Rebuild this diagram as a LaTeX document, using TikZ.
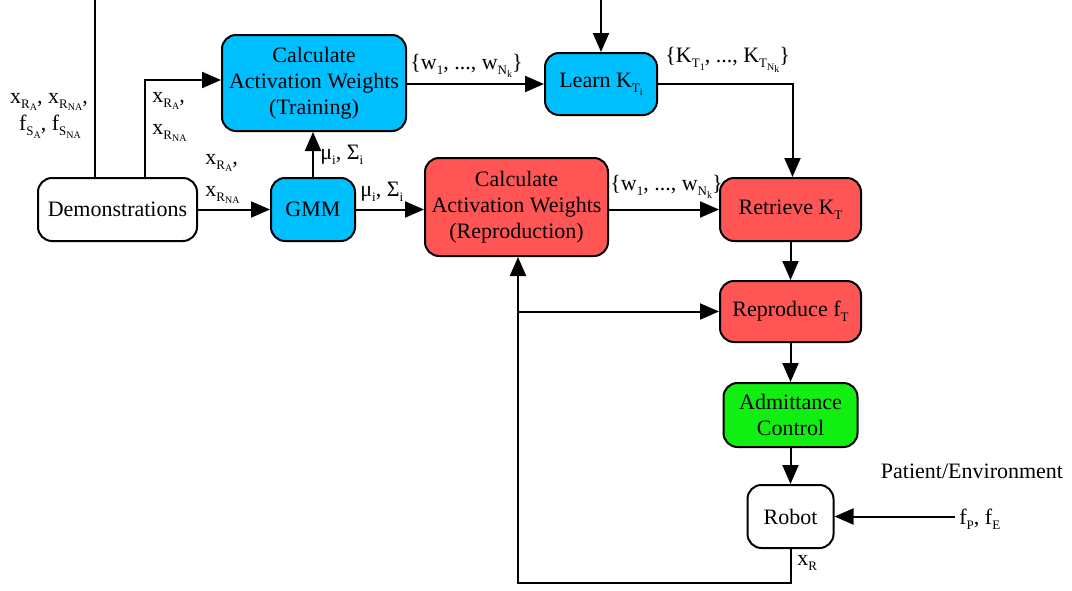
\documentclass[tikz,border=0pt]{standalone}
\usepackage{fontspec}
\setmainfont{Liberation Serif}
\usetikzlibrary{arrows.meta}
\definecolor{boxblue}{RGB}{0,191,255}
\definecolor{boxred}{RGB}{255,85,85}
\definecolor{boxgreen}{RGB}{17,238,17}
% lowered indices: first and second level
\newcommand{\sub}[1]{\raisebox{-0.5ex}{\fontsize{6.5}{7}\selectfont #1}}
\newcommand{\ssub}[1]{\raisebox{-0.45ex}{\fontsize{5}{6}\selectfont #1}}
\begin{document}
\begin{tikzpicture}[x=0.5pt,y=-0.5pt,
  font=\fontsize{11}{13}\selectfont,
  blk/.style={draw=black,line width=1pt,rounded corners=7pt,inner sep=0pt,align=center},
  flow/.style={line width=1pt,-{Triangle[length=9.5pt,width=8pt]}},
  wire/.style={line width=1pt},
  lbl/.style={inner sep=0pt,anchor=west}]
\useasboundingbox (0,0) rectangle (1072,590);

% blocks
\node[blk,fill=white,minimum width=79.5pt,minimum height=31.5pt] (demo) at (117.5,209.5) {Demonstrations};
\node[blk,fill=boxblue,minimum width=42pt,minimum height=31.5pt] (gmm) at (313,209.5) {GMM};
\node[blk,fill=boxblue,minimum width=92pt,minimum height=48pt] (train) at (314,83) {Calculate\\Activation Weights\\(Training)};
\node[blk,fill=boxblue,minimum width=56pt,minimum height=31pt] (learn) at (601,84) {Learn K\sub{T\ssub{i}}};
\node[blk,fill=boxred,minimum width=91.5pt,minimum height=49pt] (repro) at (516.5,207) {Calculate\\Activation Weights\\(Reproduction)};
\node[blk,fill=boxred,minimum width=70.5pt,minimum height=31.5pt] (retr) at (790.5,209.5) {Retrieve K\sub{T}};
\node[blk,fill=boxred,minimum width=70.5pt,minimum height=30.5pt] (repf) at (790.5,311.5) {Reproduce f\sub{T}};
\node[blk,fill=boxgreen,minimum width=67pt,minimum height=32pt] (adm) at (790.5,415) {Admittance\\Control};
\node[blk,fill=white,minimum width=43pt,minimum height=31.5pt] (robot) at (790.5,516.5) {Robot};

% free ends and corners
\coordinate (topdemo) at (95,0);
\coordinate (toplearn) at (601,0);
\coordinate (fext) at (955,516.5);
\coordinate (fb) at (518,583);

% connectors
\draw[wire] (topdemo) -- (topdemo |- demo.north);
\draw[flow] ([xshift=13.75pt]demo.north) |- (train.west |- 0,80);
\draw[flow] (demo.east) -- (gmm.west);
\draw[flow] (gmm.north) -- (gmm.north |- train.south);
\draw[flow] (gmm.east) -- (gmm.east -| repro.west);
\draw[flow] (train.east |- learn.west) -- (learn.west);
\draw[flow] (toplearn) -- (learn.north);
\draw[flow] (learn.east) -| ([xshift=1pt]retr.north);
\draw[flow] (repro.east |- retr.west) -- (retr.west);
\draw[flow] (retr.south) -- (repf.north);
\draw[flow] (repf.south) -- (adm.north);
\draw[flow] (adm.south) -- (robot.north);
\draw[flow] (fext) -- (robot.east);
\draw[flow] (robot.south) |- (fb) -- (fb |- repro.south);
\draw[flow] (fb |- repf.west) -- (repf.west);

% signal labels
\node[lbl,anchor=center] (l1a) at (49,102) {x\sub{R\ssub{A}}, x\sub{R\ssub{NA}},};
\node[lbl,anchor=center] (l1b) at (50,127) {f\sub{S\ssub{A}}, f\sub{S\ssub{NA}}};
\node[lbl] (l2a) at (152,101) {x\sub{R\ssub{A}},};
\node[lbl] (l2b) at (152,133) {x\sub{R\ssub{NA}}};
\node[lbl] (l3a) at (205,163) {x\sub{R\ssub{A}},};
\node[lbl] (l3b) at (205,195) {x\sub{R\ssub{NA}}};
\node[lbl] (l4) at (320,155) {μ\sub{i}, Σ\sub{i}};
\node[lbl] (l5) at (360,192) {μ\sub{i}, Σ\sub{i}};
\node[lbl] (l6) at (410,66) {\{w\sub{1}, ..., w\sub{N\ssub{k}}\}};
\node[lbl] (l7) at (665,60) {\{K\sub{T\ssub{1}}, ..., K\sub{T\ssub{N\ssub{k}}}\}};
\node[lbl] (l8) at (610,187) {\{w\sub{1}, ..., w\sub{N\ssub{k}}\}};
\node[lbl,anchor=center] (l9) at (972,471) {Patient/Environment};
\node[lbl] (l10) at (959,519) {f\sub{P}, f\sub{E}};
\node[lbl] (l11) at (797,563) {x\sub{R}};
\end{tikzpicture}
\end{document}
